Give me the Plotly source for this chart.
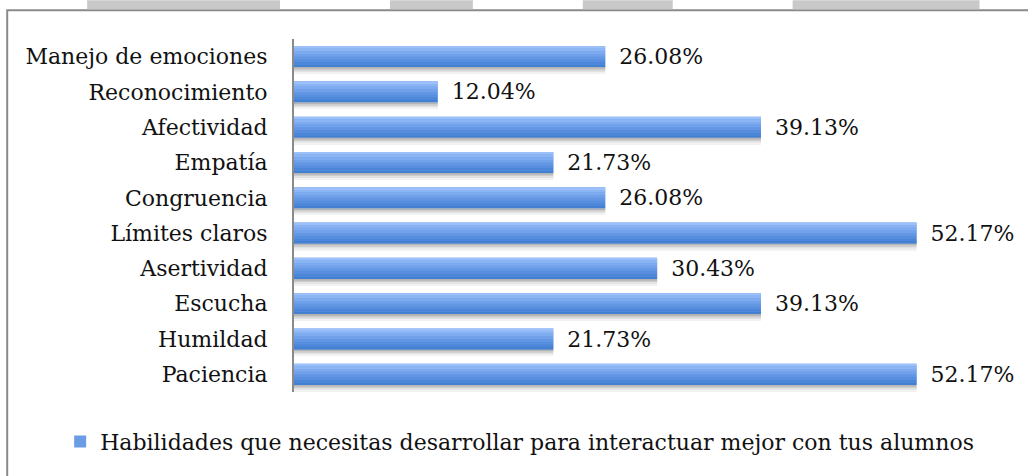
import plotly.graph_objects as go

habilidades = ['Paciencia', 'Humildad', 'Escucha', 'Asertividad', 'Límites claros',
               'Congruencia', 'Empatía', 'Afectividad', 'Reconocimiento', 'Manejo de emociones']
porcentajes = [52.17, 21.73, 39.13, 30.43, 52.17, 26.08, 21.73, 39.13, 12.04, 26.08]
etiquetas = ['\u2002' + f'{v:.2f}%' for v in porcentajes]
serie = 'Habilidades que necesitas desarrollar para interactuar mejor con tus alumnos'

fuente = 'DejaVu Serif, Liberation Serif, serif'

# degradado del relleno (de arriba a abajo) y sombra bajo la barra
degradado = ['#9cc0f9', '#8cb5f4', '#7eabef', '#70a1ea', '#6397e4', '#578ede', '#4c86d8', '#4380d2']
sombra = ['#b4b4b4', '#cdcdcd', '#e2e2e2', '#f2f2f2']
ancho = 0.6

fig = go.Figure()
fig.add_trace(go.Bar(
    y=habilidades, x=porcentajes, orientation='h', name=serie,
    offset=-ancho / 2, width=ancho,
    marker=dict(color='#6a9de6', line=dict(width=0)),
    text=etiquetas, textposition='outside', cliponaxis=False, constraintext='none',
    textfont=dict(family=fuente, size=22, color='#111111'),
))
banda = ancho / len(degradado)
for k, c in enumerate(degradado):
    fig.add_trace(go.Bar(
        y=habilidades, x=porcentajes, orientation='h', showlegend=False, hoverinfo='skip',
        offset=ancho / 2 - (k + 1) * banda, width=banda,
        marker=dict(color=c, line=dict(width=0)),
    ))
for k, c in enumerate(sombra):
    fig.add_trace(go.Bar(
        y=habilidades, x=porcentajes, orientation='h', showlegend=False, hoverinfo='skip',
        offset=-ancho / 2 - (k + 1) * 0.045, width=0.045,
        marker=dict(color=c, line=dict(width=0)),
    ))

# marco del gráfico y franjas grises de la página
L, W, T, H = 294, 716.5, 38.8, 353.4
def px_x(p):
    return (p - L) / W
def px_y(p):
    return 1 + (T - p) / H

shapes = [dict(type='rect', xref='paper', yref='paper',
               x0=px_x(7), x1=px_x(1040), y0=px_y(10), y1=px_y(490),
               line=dict(color='#8a8a8a', width=2), fillcolor='rgba(0,0,0,0)', layer='below')]
for a, b in [(87, 280), (390, 473), (583, 673), (793, 980)]:
    shapes.append(dict(type='rect', xref='paper', yref='paper',
                       x0=px_x(a), x1=px_x(b), y0=px_y(0), y1=px_y(9),
                       line=dict(width=0), fillcolor='#c9c9c9'))

fig.update_layout(
    width=1028, height=476,
    margin=dict(l=L, r=1028 - L - W, t=T, b=476 - T - H),
    paper_bgcolor='white', plot_bgcolor='white',
    barmode='overlay',
    showlegend=True,
    legend=dict(orientation='h', x=px_x(60), y=px_y(442), xanchor='left', yanchor='middle',
                font=dict(family=fuente, size=22, color='#111111'), itemwidth=30),
    xaxis=dict(range=[0, 60], visible=False),
    yaxis=dict(showline=True, linecolor='#8a8a8a', linewidth=2, showgrid=False,
               ticks='', ticklabelstandoff=20,
               tickfont=dict(family=fuente, size=22, color='#111111')),
    shapes=shapes,
)

fig.write_html('out.html', config={'displayModeBar': False},
               post_script="document.body.style.margin='0';")
